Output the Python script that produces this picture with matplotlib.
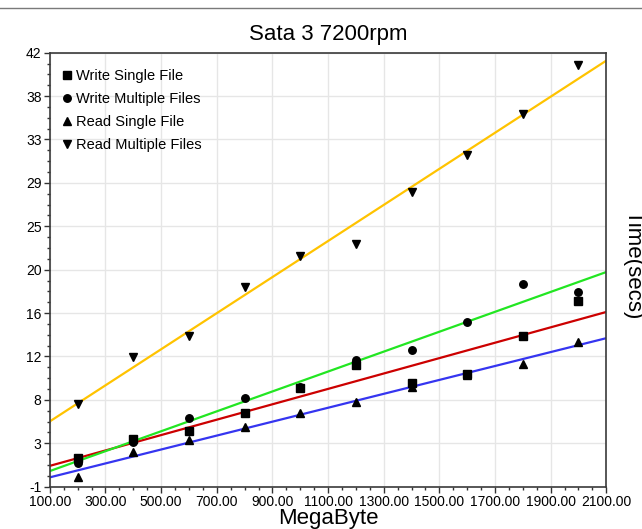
import numpy as np
import matplotlib
matplotlib.use('Agg')
import matplotlib.pyplot as plt
from matplotlib.ticker import FixedLocator, MultipleLocator, AutoMinorLocator
from matplotlib.lines import Line2D

plt.rcParams['font.family'] = ['Liberation Sans', 'DejaVu Sans']

# transfer size (MB) and measured times (secs)
megabytes = [200, 400, 600, 800, 1000, 1200, 1400, 1600, 1800, 2000]
write_single = [1.81, 3.70, 4.52, 6.27, 8.75, 11.06, 9.24, 10.17, 13.96, 17.4]
write_multiple = [1.38, 3.46, 5.84, 7.82, 8.85, 11.55, 12.51, 15.35, 19.08, 18.24]
read_single = [-0.07, 2.42, 3.62, 4.94, 6.33, 7.42, 8.91, 10.1, 11.16, 13.37]
read_multiple = [7.19, 11.82, 13.93, 18.79, 21.86, 23.08, 28.23, 31.83, 35.93, 40.75]

series_names = ['Write Single File', 'Write Multiple Files',
                'Read Single File', 'Read Multiple Files']
x_ticks = [100, 300, 500, 700, 900, 1100, 1300, 1500, 1700, 1900, 2100]
y_tick_labels = ['-1', '3', '8', '12', '16', '20', '25', '29', '33', '38', '42']

x_min, x_max = 100, 2100
y_min, y_max = -1, 42

series = [write_single, write_multiple, read_single, read_multiple]
markers = ['s', 'o', '^', 'v']
marker_sizes = [5.5, 5.4, 6.2, 6.2]
line_colors = ['#cc0000', '#22e622', '#3535f0', '#ffc300']

fig = plt.figure(figsize=(6.42, 5.29), dpi=100)
ax = fig.add_axes([0.0776, 0.08, 0.8668, 0.8204])

x = np.array(megabytes, dtype=float)
x_line = np.array([x_min, x_max], dtype=float)
for vals, mk, ms, col, name in zip(series, markers, marker_sizes, line_colors, series_names):
    # least squares trend line across the full axis range
    slope, icept = np.polyfit(x, np.array(vals), 1)
    ax.plot(x_line, slope * x_line + icept, color=col, lw=1.6, zorder=2,
            solid_capstyle='butt')
    ax.plot(x, vals, linestyle='none', marker=mk, ms=ms, color='black',
            zorder=3, label=name)

ax.set_xlim(x_min, x_max)
ax.set_ylim(y_min, y_max)

y_ticks = np.linspace(y_min, y_max, len(y_tick_labels))
ax.yaxis.set_major_locator(FixedLocator(y_ticks))
ax.set_yticklabels(y_tick_labels)
ax.yaxis.set_minor_locator(AutoMinorLocator(4))

ax.xaxis.set_major_locator(FixedLocator(x_ticks))
ax.xaxis.set_minor_locator(MultipleLocator(50))
ax.xaxis.set_major_formatter(lambda v, p: f'{v:.2f}')

ax.tick_params(which='major', direction='out', length=4, width=1, labelsize=10,
               color='#333333', pad=2)
ax.tick_params(which='minor', direction='out', length=2.5, width=1, color='#333333')
ax.tick_params(top=False, right=False, which='both')

ax.grid(True, which='major', color='#e6e6e6', lw=1)
ax.set_axisbelow(True)
for sp in ax.spines.values():
    sp.set_color('#3a3a3a')
    sp.set_linewidth(1.2)

ax.set_title('Sata 3 7200rpm', fontsize=16, pad=9)
ax.set_xlabel('MegaByte', fontsize=16, labelpad=-1)
fig.text(0.986, 0.5, 'Time(secs)', rotation=-90, ha='center', va='center',
         fontsize=16)

# thin rule along the top edge
fig.add_artist(Line2D([0, 1], [1 - 8 / 529, 1 - 8 / 529], color='#7a7a7a', lw=1))

leg = ax.legend(loc='upper left', bbox_to_anchor=(0.015, 0.972), frameon=False,
                fontsize=10.5, handlelength=0.6, handletextpad=0.3,
                labelspacing=0.62, borderaxespad=0, borderpad=0.3, numpoints=1)

fig.savefig('out.png', dpi=100, facecolor='white')
